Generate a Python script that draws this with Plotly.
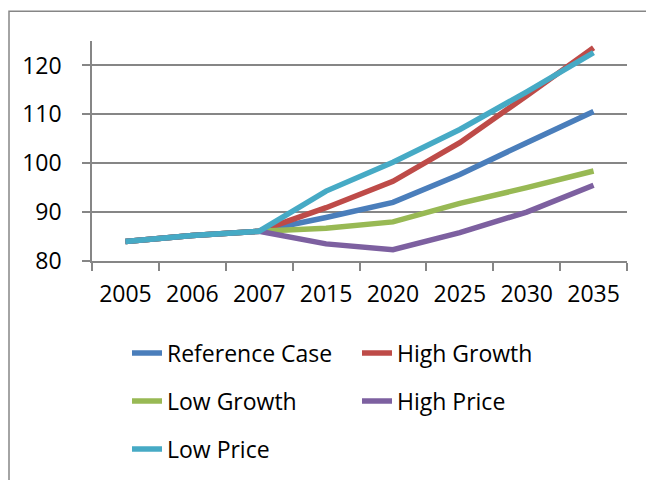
import plotly.graph_objects as go

# Scenario index values by year
years = ["2005", "2006", "2007", "2015", "2020", "2025", "2030", "2035"]
reference_case = [84.0, 85.2, 86.1, 88.9, 92.0, 97.7, 104.2, 110.6]
high_growth = [84.0, 85.2, 86.1, 90.9, 96.3, 104.2, 113.8, 123.6]
low_growth = [84.0, 85.2, 86.1, 86.7, 88.0, 91.8, 95.0, 98.4]
high_price = [84.0, 85.2, 86.1, 83.5, 82.3, 85.8, 90.0, 95.5]
low_price = [84.0, 85.2, 86.1, 94.3, 100.2, 106.9, 114.6, 122.6]

y_ticks = [80, 90, 100, 110, 120]

W, H = 646, 480
L, R, T, B = 92, 19, 41, 218
PW, PH = W - L - R, H - T - B

FONT = "Open Sans"
GRAY = "#868686"


def px_x(px):
    return (px - L) / PW


def px_y(py):
    return 1 - (py - T) / PH


series = [
    ("Reference Case", reference_case, "#4A7EBB"),
    ("High Growth", high_growth, "#BE4B48"),
    ("Low Growth", low_growth, "#98B954"),
    ("High Price", high_price, "#7D60A0"),
    ("Low Price", low_price, "#46AAC5"),
]

# legend slots: (text left px, row centre px)
slots = [(168, 353), (398, 353), (168, 401), (398, 401), (168, 449)]

fig = go.Figure()
legend_layout = {}
for i, ((name, vals, color), (tx, ty)) in enumerate(zip(series, slots)):
    key = "legend" if i == 0 else f"legend{i + 1}"
    fig.add_trace(go.Scatter(
        x=years, y=vals, mode="lines", name=name,
        line=dict(color=color, width=5.5),
        legend=key,
    ))
    legend_layout[key] = dict(
        x=px_x(tx - 41), y=px_y(ty), xanchor="left", yanchor="middle",
        font=dict(family=FONT, size=23, color="black"),
        bgcolor="rgba(0,0,0,0)", borderwidth=0,
    )

fig.update_layout(
    width=W, height=H,
    margin=dict(l=L, r=R, t=T, b=B, pad=0),
    paper_bgcolor="white", plot_bgcolor="white",
    showlegend=True,
    **legend_layout,
    xaxis=dict(
        type="category", range=[-0.5, len(years) - 0.5],
        tickson="boundaries", ticks="outside", ticklen=8, tickcolor=GRAY,
        tickwidth=1.5,
        showline=True, linecolor=GRAY, linewidth=1.5, showgrid=False,
        tickfont=dict(family=FONT, size=23, color="black"),
        ticklabelstandoff=12,
    ),
    yaxis=dict(
        range=[80, 125], tickvals=y_ticks,
        ticks="outside", ticklen=8, tickcolor=GRAY, tickwidth=1.5,
        showline=True, linecolor=GRAY, linewidth=1.5,
        showgrid=True, gridcolor=GRAY, gridwidth=1.5, zeroline=False,
        tickfont=dict(family=FONT, size=23, color="black"),
        ticklabelstandoff=16,
    ),
    shapes=[dict(
        type="rect", xref="paper", yref="paper",
        x0=px_x(9), y0=px_y(500), x1=px_x(670), y1=px_y(11),
        line=dict(color=GRAY, width=1.5), fillcolor="rgba(0,0,0,0)",
        layer="above",
    )],
)

fig.write_html("out.html")
